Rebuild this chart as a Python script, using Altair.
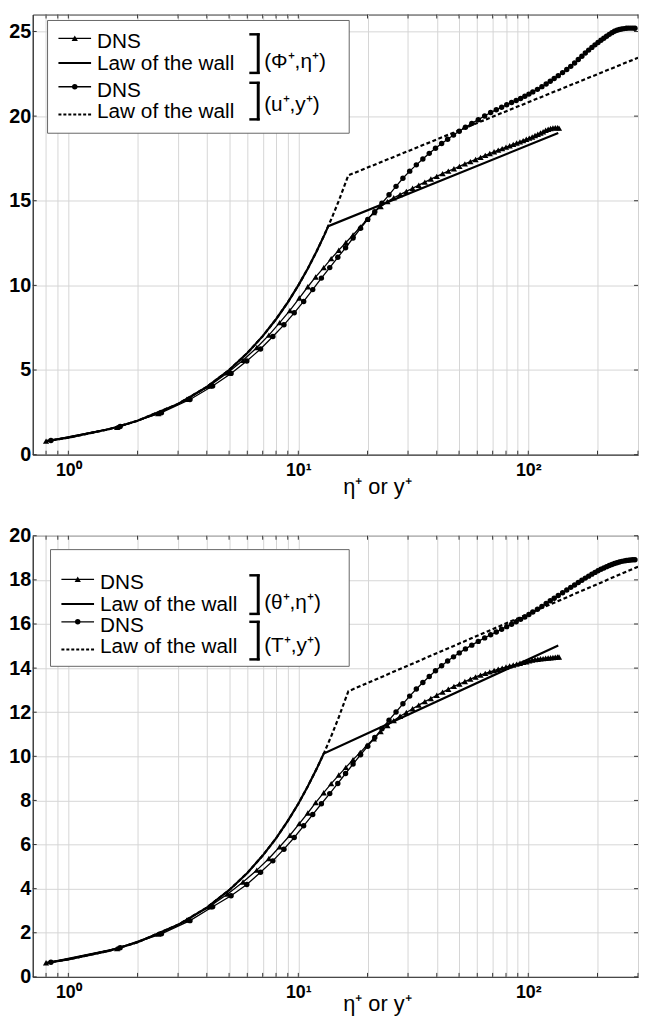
import altair as alt
import pandas as pd

# ---------------- data ----------------
# DNS grid in eta+ (triangles) and its values
eta_plus = [0.8, 1.63, 2.46, 3.28, 4.1, 4.93, 5.75, 6.6, 7.45, 8.3,
            9.2, 10.1, 11.0, 11.9, 12.9, 13.9, 15.0, 16.1, 17.3, 18.6,
            19.9, 21.3, 22.8, 24.4, 26.0, 27.7, 29.5, 31.4, 33.4, 35.5,
            37.7, 40.0, 42.4, 44.9, 47.5, 50.2, 53.0, 56.0, 59.0, 62.0,
            65.0, 68.0, 71.0, 74.0, 77.0, 80.0, 83.0, 86.0, 89.0, 92.0,
            95.0, 98.0, 101.0, 104.0, 107.0, 110.0, 113.0, 116.0, 119.0, 122.0,
            125.0, 128.0, 131.0, 134.0, 136.0]
phi_plus = [0.8, 1.61, 2.43, 3.27, 4.06, 4.84, 5.58, 6.33, 7.06, 7.8,
            8.52, 9.25, 9.92, 10.5, 11.05, 11.58, 12.08, 12.53, 12.98, 13.45,
            13.9, 14.3, 14.66, 14.95, 15.18, 15.36, 15.55, 15.74, 15.92, 16.1,
            16.28, 16.44, 16.6, 16.75, 16.89, 17.03, 17.18, 17.31, 17.44, 17.56,
            17.68, 17.79, 17.89, 17.99, 18.08, 18.17, 18.25, 18.33, 18.41, 18.48,
            18.55, 18.63, 18.7, 18.77, 18.85, 18.93, 19.0, 19.08, 19.16, 19.22,
            19.27, 19.3, 19.32, 19.31, 19.29]
theta_plus = [0.64, 1.29, 1.94, 2.58, 3.18, 3.76, 4.3, 4.84, 5.37, 5.9,
              6.42, 6.95, 7.43, 7.9, 8.35, 8.76, 9.15, 9.5, 9.85, 10.18,
              10.5, 10.8, 11.12, 11.4, 11.62, 11.82, 11.99, 12.16, 12.32, 12.48,
              12.62, 12.77, 12.91, 13.04, 13.17, 13.28, 13.39, 13.5, 13.6, 13.68,
              13.76, 13.83, 13.89, 13.95, 14.0, 14.05, 14.1, 14.14, 14.18, 14.22,
              14.26, 14.29, 14.33, 14.36, 14.39, 14.4, 14.42, 14.43, 14.45, 14.46,
              14.47, 14.48, 14.49, 14.5, 14.5]

# DNS grid in y+ (circles) and its values
y_plus = [0.84, 1.68, 2.54, 3.38, 4.24, 5.1, 5.97, 6.85, 7.75, 8.66,
          9.6, 10.55, 11.55, 12.6, 13.7, 14.85, 16.05, 17.3, 18.65, 20.05,
          21.5, 23.1, 24.8, 26.6, 28.5, 30.5, 32.6, 34.8, 37.1, 39.5,
          42.0, 44.6, 47.3, 50.1, 53.3, 56.8, 60.6, 64.6, 68.6, 72.6,
          76.6, 80.6, 84.6, 88.6, 92.6, 96.6, 100.6, 104.6, 109.6, 114.6,
          119.6, 124.6, 129.6, 135, 141, 147, 153, 159, 165, 171,
          177, 183, 189, 195, 201, 207, 213, 219, 225, 231,
          237, 243, 249, 255, 261, 267, 273, 279, 285, 291]
u_plus = [0.84, 1.66, 2.48, 3.26, 4.06, 4.8, 5.53, 6.24, 6.98, 7.67,
          8.38, 9.05, 9.75, 10.43, 11.05, 11.66, 12.22, 12.8, 13.37, 13.9,
          14.35, 14.85, 15.35, 15.85, 16.33, 16.75, 17.12, 17.47, 17.8, 18.1,
          18.38, 18.63, 18.88, 19.11, 19.34, 19.57, 19.79, 20.01, 20.21, 20.38,
          20.52, 20.67, 20.8, 20.92, 21.04, 21.17, 21.3, 21.43, 21.58, 21.74,
          21.9, 22.06, 22.22, 22.39, 22.57, 22.75, 22.94, 23.14, 23.34, 23.54,
          23.73, 23.9, 24.06, 24.21, 24.35, 24.48, 24.6, 24.72, 24.83, 24.93,
          25.01, 25.07, 25.12, 25.15, 25.17, 25.19, 25.2, 25.2, 25.2, 25.19]
T_plus = [0.66, 1.32, 1.95, 2.55, 3.18, 3.68, 4.19, 4.74, 5.26, 5.79,
          6.32, 6.85, 7.36, 7.85, 8.31, 8.77, 9.22, 9.65, 10.07, 10.46,
          10.85, 11.25, 11.64, 12.01, 12.38, 12.73, 13.05, 13.35, 13.62, 13.88,
          14.11, 14.32, 14.51, 14.69, 14.87, 15.04, 15.21, 15.37, 15.51, 15.64,
          15.76, 15.88, 15.99, 16.1, 16.21, 16.32, 16.43, 16.54, 16.67, 16.8,
          16.93, 17.05, 17.17, 17.29, 17.42, 17.54, 17.66, 17.77, 17.88, 17.98,
          18.08, 18.17, 18.26, 18.34, 18.41, 18.48, 18.54, 18.6, 18.65, 18.7,
          18.74, 18.78, 18.81, 18.84, 18.86, 18.88, 18.89, 18.9, 18.91, 18.91]

# Laws of the wall
law_phi_x = [0.8, 1, 1.5, 2, 3, 4, 5, 6, 7, 8, 9, 10, 11, 12, 13, 13.5, 135]
law_phi_y = [0.8, 1, 1.5, 2, 3, 4, 5, 6, 7, 8, 9, 10, 11, 12, 13, 13.5, 19.0]
law_u_x = [0.8, 1, 1.5, 2, 3, 4, 5, 6, 7, 8, 9, 10, 11, 12, 13, 14, 15, 16.5, 300]
law_u_y = [0.8, 1, 1.5, 2, 3, 4, 5, 6, 7, 8, 9, 10, 11, 12, 13, 14, 15, 16.5, 23.45]
law_theta_x = [0.8, 1, 1.5, 2, 3, 4, 5, 6, 7, 8, 9, 10, 11, 12, 12.9, 135]
law_theta_y = [0.63, 0.79, 1.18, 1.57, 2.36, 3.14, 3.93, 4.71, 5.5, 6.28, 7.07,
               7.85, 8.64, 9.42, 10.13, 15.02]
law_T_x = [0.8, 1, 1.5, 2, 3, 4, 5, 6, 7, 8, 9, 10, 11, 12, 13, 14, 15, 16.5, 300]
law_T_y = [0.63, 0.79, 1.18, 1.57, 2.36, 3.14, 3.93, 4.71, 5.5, 6.28, 7.07,
           7.85, 8.64, 9.42, 10.2, 10.99, 11.78, 12.95, 18.6]

# Axis ticks / labels
x_ticks = [0.8, 0.9, 1, 2, 3, 4, 5, 6, 7, 8, 9, 10, 20, 30, 40, 50, 60, 70,
           80, 90, 100, 200, 300]
y_ticks_top = [0, 5, 10, 15, 20, 25]
y_ticks_bot = [0, 2, 4, 6, 8, 10, 12, 14, 16, 18, 20]
x_title = "η⁺ or y⁺"
leg_dns = "DNS"
leg_law = "Law of the wall"
pair_top = ["(Φ⁺,η⁺)", "(u⁺,y⁺)"]
pair_bot = ["(θ⁺,η⁺)", "(T⁺,y⁺)"]

FONT = "Liberation Sans"
W = 612
INK = "black"
TRI = 40
CIR = 30
LFS = 21


def legend_layers(box, rows, sx, tx, brackets, blabels, bly):
    one = pd.DataFrame({"k": [0]})
    base = alt.Chart(one)
    L = []
    bx0, by0, bx1, by1 = box
    L.append(base.mark_rect(fill="white", stroke="#666", strokeWidth=1).encode(
        x=alt.value(bx0), x2=alt.value(bx1), y=alt.value(by0), y2=alt.value(by1)))
    kinds = ["tri", "solid", "cir", "dash"]
    texts = [leg_dns, leg_law, leg_dns, leg_law]
    for kind, ry, txt in zip(kinds, rows, texts):
        if kind in ("tri", "cir"):
            L.append(base.mark_rule(color=INK, strokeWidth=1.3).encode(
                x=alt.value(sx[0]), x2=alt.value(sx[1]), y=alt.value(ry - 4)))
            L.append(base.mark_point(shape="triangle-up" if kind == "tri" else "circle",
                                     filled=True, size=TRI if kind == "tri" else CIR,
                                     color=INK, opacity=1).encode(
                x=alt.value((sx[0] + sx[1]) / 2), y=alt.value(ry - 4)))
        elif kind == "solid":
            L.append(base.mark_rule(color=INK, strokeWidth=2).encode(
                x=alt.value(sx[0]), x2=alt.value(sx[1]), y=alt.value(ry - 1)))
        else:
            L.append(base.mark_rule(color=INK, strokeWidth=2, strokeDash=[3, 2]).encode(
                x=alt.value(sx[0]), x2=alt.value(sx[1]), y=alt.value(ry + 2)))
        L.append(base.mark_text(align="left", baseline="middle", font=FONT,
                                fontSize=LFS, color=INK).encode(
            x=alt.value(tx), y=alt.value(ry), text=alt.value(txt)))
    for (bx, y0, y1), lab, ly in zip(brackets, blabels, bly):
        L.append(base.mark_rule(color=INK, strokeWidth=3).encode(
            x=alt.value(bx), y=alt.value(y0), y2=alt.value(y1)))
        L.append(base.mark_rule(color=INK, strokeWidth=2.5).encode(
            x=alt.value(bx - 9), x2=alt.value(bx + 1.5), y=alt.value(y0 + 1)))
        L.append(base.mark_rule(color=INK, strokeWidth=2.5).encode(
            x=alt.value(bx - 9), x2=alt.value(bx + 1.5), y=alt.value(y1 - 1)))
        L.append(base.mark_text(align="left", baseline="middle", font=FONT,
                                fontSize=LFS, color=INK).encode(
            x=alt.value(bx + 6), y=alt.value(ly), text=alt.value(lab)))
    return L


def panel(h, ymax, yticks, tri_x, tri_y, cir_x, cir_y, la_x, la_y, lb_x, lb_y,
          title_y, leg):
    xscale = alt.Scale(type="log", domain=[0.7, 300], nice=False)
    yscale = alt.Scale(domain=[0, ymax], nice=False, zero=False)
    xaxis = alt.Axis(values=x_ticks, grid=True, gridColor="#d6d6d6", gridWidth=1,
                     tickSize=0, domainColor="#333", domainWidth=1,
                     labelExpr="datum.value == 1 ? '10⁰' : datum.value == 10 ? '10¹' : datum.value == 100 ? '10²' : ''",
                     labelFont=FONT, labelFontWeight="bold", labelFontSize=18,
                     labelColor=INK, labelPadding=7, labelOverlap=False,
                     labelFlush=False, title=x_title, titleFont=FONT,
                     titleFontWeight="normal", titleFontSize=22, titleColor=INK,
                     titleX=348, titleY=title_y, titleAlign="center",
                     titleBaseline="middle")
    yaxis = alt.Axis(values=yticks, grid=True, gridColor="#d6d6d6", gridWidth=1,
                     tickSize=0, domainColor="#333", domainWidth=1,
                     labelFont=FONT, labelFontWeight="bold", labelFontSize=20,
                     labelColor=INK, labelPadding=2, labelOverlap=False,
                     minExtent=24, maxExtent=24, title=None)
    X = alt.X("x:Q", scale=xscale, axis=xaxis)
    Y = alt.Y("y:Q", scale=yscale, axis=yaxis)

    la = pd.DataFrame({"x": la_x, "y": la_y})
    lb = pd.DataFrame({"x": lb_x, "y": lb_y})
    tri = pd.DataFrame({"x": tri_x, "y": tri_y})
    cir = pd.DataFrame({"x": cir_x, "y": cir_y})
    xt = pd.DataFrame({"x": x_ticks})
    yt = pd.DataFrame({"y": yticks})

    layers = [
        alt.Chart(la).mark_line(color=INK, strokeWidth=2.2, clip=True).encode(x=X, y=Y),
        alt.Chart(lb).mark_line(color=INK, strokeWidth=2.2, strokeDash=[4, 2.5],
                                clip=True).encode(x=X, y=Y),
        alt.Chart(tri).mark_line(color=INK, strokeWidth=1.3, clip=True).encode(x=X, y=Y),
        alt.Chart(cir).mark_line(color=INK, strokeWidth=1.3, clip=True).encode(x=X, y=Y),
        alt.Chart(tri).mark_point(shape="triangle-up", filled=True, size=TRI, color=INK,
                                  opacity=1, clip=True).encode(x=X, y=Y),
        alt.Chart(cir).mark_point(shape="circle", filled=True, size=CIR, color=INK,
                                  opacity=1, clip=True).encode(x=X, y=Y),
        # inward minor ticks on all four sides of the frame
        alt.Chart(xt).mark_rule(color="#333", strokeWidth=1).encode(
            x=X, y=alt.value(0), y2=alt.value(4)),
        alt.Chart(xt).mark_rule(color="#333", strokeWidth=1).encode(
            x=X, y=alt.value(h - 4), y2=alt.value(h)),
        alt.Chart(yt).mark_rule(color="#333", strokeWidth=1).encode(
            y=Y, x=alt.value(0), x2=alt.value(4)),
        alt.Chart(yt).mark_rule(color="#333", strokeWidth=1).encode(
            y=Y, x=alt.value(W - 4), x2=alt.value(W)),
    ]
    layers += leg
    return alt.layer(*layers).properties(width=W, height=h)


top_leg = legend_layers(box=(15, 6, 320, 120), rows=[28, 50, 77, 99],
                        sx=(26, 59), tx=65,
                        brackets=[(228, 19, 60), (228, 68, 107)],
                        blabels=pair_top, bly=[48, 92])
bot_leg = legend_layers(box=(18, 14, 320, 132), rows=[48, 70, 91, 113],
                        sx=(29, 62), tx=68,
                        brackets=[(228, 39, 80), (228, 86, 126)],
                        blabels=pair_bot, bly=[68, 112])

top = panel(445, 26, y_ticks_top, eta_plus, phi_plus, y_plus, u_plus,
            law_phi_x, law_phi_y, law_u_x, law_u_y, 32, top_leg)
bottom = panel(446, 20, y_ticks_bot, eta_plus, theta_plus, y_plus, T_plus,
               law_theta_x, law_theta_y, law_T_x, law_T_y, 27, bot_leg)

chart = alt.vconcat(top, bottom, spacing=27).properties(
    padding={"left": 0, "top": 0, "right": 0, "bottom": 0}
).configure_view(stroke="#333", strokeWidth=1)

chart.save("out.html", embed_options={"renderer": "svg", "actions": False})
